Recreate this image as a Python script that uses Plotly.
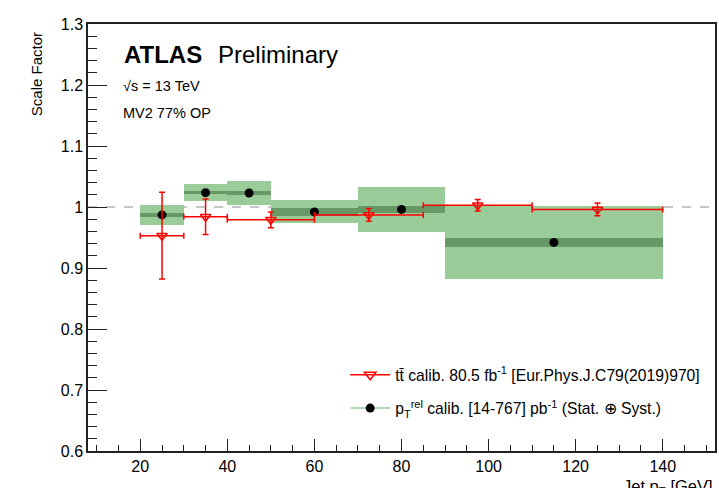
import plotly.graph_objects as go

# ---- data ----
tt_x = [25, 35, 50, 72.5, 97.5, 125]
tt_lo = [20, 30, 40, 60, 85, 110]
tt_hi = [30, 40, 60, 85, 110, 140]
tt_sf = [0.953, 0.984, 0.979, 0.987, 1.003, 0.996]
tt_err = [0.071, 0.029, 0.013, 0.0105, 0.0095, 0.0105]

pr_lo = [20, 30, 40, 50, 70, 90]
pr_hi = [30, 40, 50, 70, 90, 140]
pr_sf = [0.987, 1.0235, 1.023, 0.992, 0.996, 0.942]
pr_tot = [0.017, 0.014, 0.020, 0.019, 0.0375, 0.060]
pr_stat = [0.003, 0.003, 0.003, 0.006, 0.006, 0.008]

x_tick_vals = [20, 40, 60, 80, 100, 120, 140]
x_tick_text = ["20", "40", "60", "80", "100", "120", "140"]
y_tick_vals = [0.6, 0.7, 0.8, 0.9, 1.0, 1.1, 1.2, 1.3]
y_tick_text = ["0.6", "0.7", "0.8", "0.9", "1", "1.1", "1.2", "1.3"]

FONT = "Liberation Sans, Arial, Helvetica, sans-serif"
LIGHT = "#99cc99"
DARK = "#669966"
RED = "#ff0000"

pr_c = [(a + b) / 2 for a, b in zip(pr_lo, pr_hi)]
pr_w = [b - a for a, b in zip(pr_lo, pr_hi)]

fig = go.Figure()

# total uncertainty boxes
fig.add_trace(go.Bar(
    x=pr_c, y=[2 * t for t in pr_tot], base=[s - t for s, t in zip(pr_sf, pr_tot)],
    width=pr_w, marker=dict(color=LIGHT, line=dict(width=0)), showlegend=False,
    hoverinfo="skip"))
# stat bands
fig.add_trace(go.Bar(
    x=pr_c, y=[2 * t for t in pr_stat], base=[s - t for s, t in zip(pr_sf, pr_stat)],
    width=pr_w, marker=dict(color=DARK, line=dict(width=0)), showlegend=False,
    hoverinfo="skip"))
# ptrel points
fig.add_trace(go.Scatter(
    x=pr_c, y=pr_sf, mode="markers",
    marker=dict(color="black", size=9, symbol="circle"), showlegend=False))

# ttbar points
fig.add_trace(go.Scatter(
    x=tt_x, y=tt_sf, mode="markers",
    marker=dict(color=RED, size=9, symbol="triangle-down-open", line=dict(width=1.5, color=RED)),
    error_x=dict(type="data", symmetric=False,
                 array=[h - x for h, x in zip(tt_hi, tt_x)],
                 arrayminus=[x - l for l, x in zip(tt_lo, tt_x)],
                 color=RED, thickness=1.5, width=3),
    error_y=dict(type="data", array=tt_err, color=RED, thickness=1.5, width=3),
    showlegend=False))

# legend entries
fig.add_trace(go.Scatter(
    x=[None], y=[None], mode="lines+markers",
    name="tt\u0304 calib. 80.5 fb<sup>-1</sup> [Eur.Phys.J.C79(2019)970]",
    line=dict(color=RED, width=1.5),
    marker=dict(color=RED, size=10, symbol="triangle-down-open", line=dict(width=1.5, color=RED)),
    legendgroup="a"))
fig.add_trace(go.Scatter(
    x=[None], y=[None], mode="lines+markers",
    name="p<sub>T</sub><sup>rel</sup> calib. [14-767] pb<sup>-1</sup> (Stat. \u2295 Syst.)",
    line=dict(color=LIGHT, width=1.5),
    marker=dict(color="black", size=9, symbol="circle"),
    legendgroup="b"))

fig.add_shape(type="line", xref="paper", yref="y", x0=0, x1=1, y0=1, y1=1,
              line=dict(color="#b4b4b4", width=1.5, dash="dash"), layer="below")

axis_common = dict(showgrid=False, zeroline=False, showline=True, linecolor="#222",
                   linewidth=1.5, mirror=True, ticks="inside", tickcolor="#222",
                   tickwidth=1.2, tickfont=dict(family=FONT, size=16, color="black"))

fig.update_xaxes(range=[8, 152], tickmode="array", tickvals=x_tick_vals,
                 ticktext=x_tick_text, ticklen=12,
                 minor=dict(ticks="inside", dtick=5, tick0=0, ticklen=6, tickcolor="#222",
                            tickwidth=1.2),
                 **axis_common)
fig.update_yaxes(range=[0.6, 1.3], tickmode="array", tickvals=y_tick_vals,
                 ticktext=y_tick_text, ticklen=19,
                 minor=dict(ticks="inside", dtick=0.02, tick0=0, ticklen=9.5,
                            tickcolor="#222", tickwidth=1.2),
                 **axis_common)

W, H = 719, 488
L, R, T, B = 88, 2, 24, 37
pw, ph = W - L - R, H - T - B


def px(xp):
    return (xp - L) / pw


def py(yp):
    return (H - B - yp) / ph


ann = []
ann.append(dict(text="<b>ATLAS</b>", x=px(122), y=py(55), xref="paper", yref="paper",
                xanchor="left", yanchor="middle", showarrow=False,
                font=dict(family=FONT, size=24, color="black")))
ann.append(dict(text="Preliminary", x=px(216), y=py(55), xref="paper", yref="paper",
                xanchor="left", yanchor="middle", showarrow=False,
                font=dict(family=FONT, size=24, color="black")))
ann.append(dict(text="\u221As = 13 TeV", x=px(121), y=py(86), xref="paper", yref="paper",
                xanchor="left", yanchor="middle", showarrow=False,
                font=dict(family=FONT, size=14.5, color="black")))
ann.append(dict(text="MV2 77% OP", x=px(121), y=py(113), xref="paper", yref="paper",
                xanchor="left", yanchor="middle", showarrow=False,
                font=dict(family=FONT, size=14.5, color="black")))
ann.append(dict(text="Scale Factor", x=px(36), y=py(74), xref="paper", yref="paper",
                xanchor="center", yanchor="middle", textangle=-90, showarrow=False,
                font=dict(family=FONT, size=15, color="black")))
ann.append(dict(text="Jet p<sub>T</sub> [GeV]", x=1.0, y=py(475), xref="paper", yref="paper",
                xanchor="right", yanchor="top", showarrow=False,
                font=dict(family=FONT, size=16.5, color="black")))

fig.update_layout(
    width=W, height=H, margin=dict(l=L, r=R, t=T, b=B),
    paper_bgcolor="white", plot_bgcolor="white",
    barmode="overlay", bargap=0,
    font=dict(family=FONT, color="black"),
    annotations=ann,
    legend=dict(x=px(346), y=py(358), xanchor="left", yanchor="top",
                bgcolor="rgba(0,0,0,0)", font=dict(family=FONT, size=15.7, color="black"),
                traceorder="grouped", tracegroupgap=10, itemwidth=40),
)

fig.write_html(
    "out.html",
    config={"displayModeBar": False},
    post_script="document.body.style.margin='0';document.body.style.overflow='hidden';",
)
